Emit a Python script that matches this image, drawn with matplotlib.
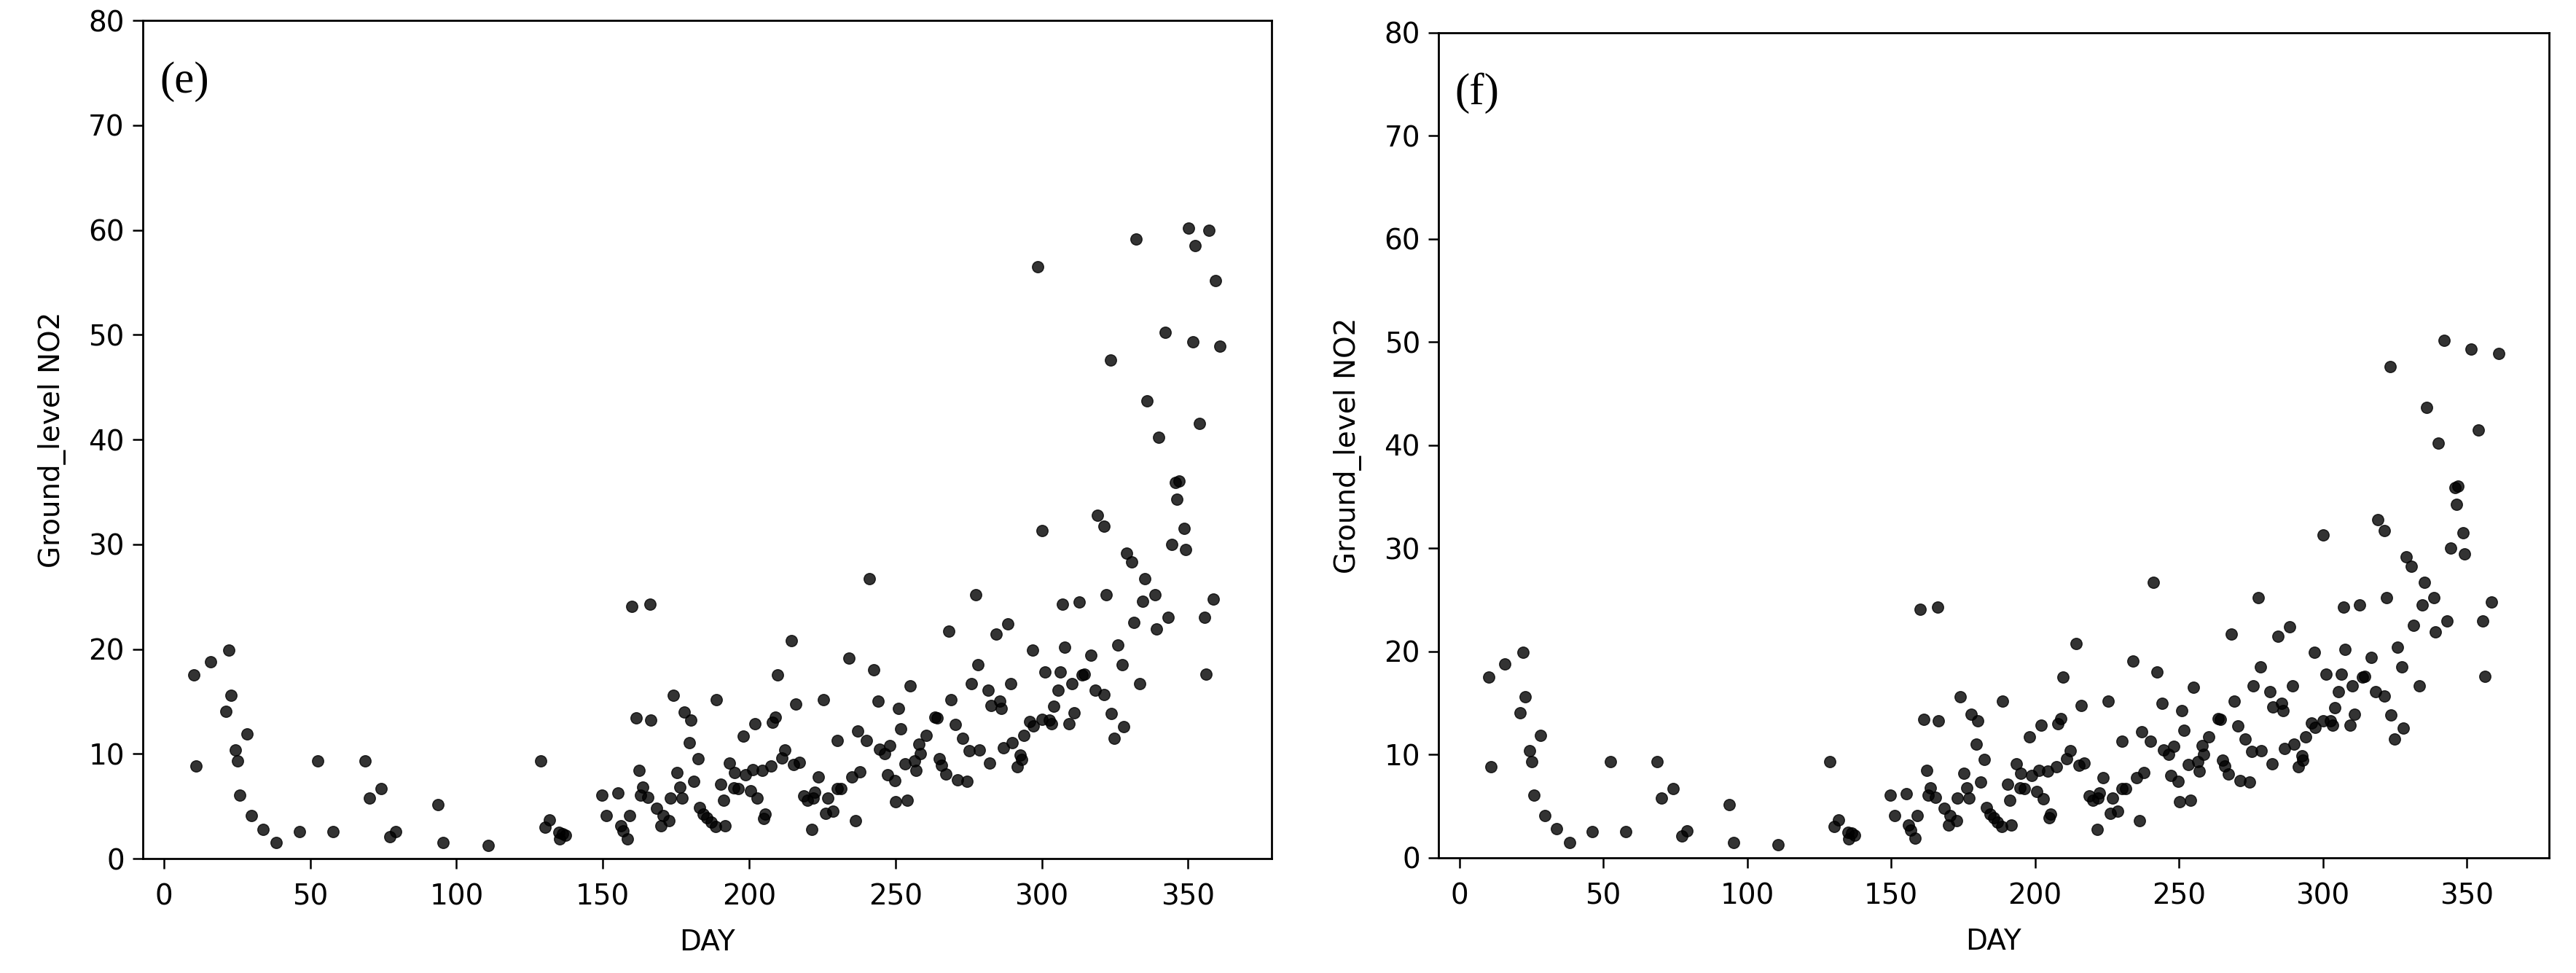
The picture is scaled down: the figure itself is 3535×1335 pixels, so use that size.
import matplotlib
matplotlib.use('Agg')
import matplotlib.pyplot as plt

# points shown in both panels
common_day = [
    10.3, 11.1, 15.9, 21.2, 22.1, 22.9, 24.5, 25.2, 25.9, 28.3,
    29.8, 33.8, 38.4, 46.3, 52.5, 57.8, 68.8, 70.3, 74.3, 77.3,
    79.1, 93.7, 95.3, 110.8, 128.8, 130.3, 131.8, 135.0, 135.3, 136.3,
    137.3, 149.8, 151.3, 155.2, 156.1, 156.8, 158.3, 159.1, 160.0, 161.4,
    162.3, 162.8, 163.6, 165.5, 166.2, 166.4, 168.5, 169.9, 170.6, 172.7,
    173.1, 174.0, 175.4, 176.4, 177.1, 177.8, 179.5, 180.2, 181.0, 182.5,
    183.1, 184.3, 185.6, 187.0, 188.5, 188.7, 190.4, 191.2, 191.8, 193.4,
    194.7, 195.1, 196.3, 198.1, 198.8, 200.5, 201.3, 202.0, 202.8, 204.5,
    204.9, 205.5, 207.5, 208.0, 208.9, 209.8, 211.1, 212.3, 214.4, 215.3,
    216.0, 217.1, 218.8, 220.0, 221.5, 221.8, 222.5, 223.7, 225.3, 226.1,
    226.9, 228.7, 230.1, 230.2, 231.4, 234.0, 235.2, 236.3, 237.0, 237.9,
    240.0, 241.0, 242.5, 244.2, 244.7, 246.4, 247.2, 248.1, 249.7, 250.1,
    251.1, 251.8, 253.3, 254.1, 255.0, 256.6, 257.1, 258.0, 258.6, 260.4,
    263.6, 264.3, 265.1, 265.8, 267.3, 268.2, 269.1, 270.5, 271.2, 273.0,
    274.4, 275.2, 275.9, 277.5, 278.3, 278.6, 281.7, 282.3, 282.7, 284.5,
    285.6, 286.2, 286.8, 288.5, 289.4, 290.0, 291.6, 292.7, 293.1, 293.9,
    296.0, 297.0, 297.2, 300.1, 300.2, 301.0, 302.6, 303.3, 304.1, 305.5,
    306.4, 307.2, 307.8, 309.4, 310.3, 311.1, 312.7, 313.8, 314.6, 316.7,
    318.3, 319.0, 321.3, 321.4, 322.1, 323.5, 323.7, 324.8, 325.9, 327.5,
    327.9, 329.0, 330.7, 331.4, 333.6, 334.6, 335.3, 336.0, 338.6, 339.1,
    340.0, 342.2, 343.1, 344.5, 345.8, 346.3, 347.0, 348.7, 349.3, 351.6,
    353.9, 355.6, 356.2, 358.6, 361.0,
]
common_no2 = [
    17.5, 8.85, 18.8, 14.05, 19.9, 15.6, 10.4, 9.3, 6.05, 11.9,
    4.1, 2.8, 1.5, 2.55, 9.3, 2.55, 9.3, 5.8, 6.7, 2.1,
    2.6, 5.15, 1.5, 1.25, 9.3, 3.0, 3.7, 2.5, 1.85, 2.4,
    2.2, 6.05, 4.1, 6.25, 3.15, 2.65, 1.9, 4.1, 24.1, 13.45,
    8.45, 6.05, 6.8, 5.85, 24.3, 13.25, 4.8, 3.15, 4.1, 3.6,
    5.8, 15.6, 8.2, 6.8, 5.8, 13.95, 11.05, 13.25, 7.35, 9.55,
    4.85, 4.25, 3.9, 3.45, 3.05, 15.2, 7.1, 5.6, 3.15, 9.1,
    6.75, 8.2, 6.7, 11.7, 8.0, 6.45, 8.5, 12.85, 5.75, 8.4,
    3.85, 4.25, 8.85, 13.0, 13.5, 17.55, 9.6, 10.4, 20.8, 9.0,
    14.75, 9.15, 6.0, 5.6, 2.75, 5.8, 6.3, 7.8, 15.2, 4.3,
    5.8, 4.5, 11.3, 6.7, 6.7, 19.1, 7.8, 3.6, 12.2, 8.25,
    11.3, 26.7, 18.0, 15.0, 10.45, 10.0, 8.0, 10.8, 7.45, 5.45,
    14.3, 12.35, 9.05, 5.6, 16.5, 9.35, 8.4, 10.9, 10.0, 11.75,
    13.5, 13.4, 9.5, 8.9, 8.1, 21.7, 15.2, 12.8, 7.5, 11.5,
    7.35, 10.3, 16.7, 25.2, 18.5, 10.4, 16.1, 9.1, 14.6, 21.45,
    15.0, 14.3, 10.6, 22.4, 16.7, 11.05, 8.8, 9.9, 9.45, 11.75,
    13.05, 19.9, 12.65, 13.3, 31.3, 17.8, 13.25, 12.85, 14.55, 16.1,
    17.8, 24.3, 20.2, 12.85, 16.7, 13.9, 24.5, 17.5, 17.6, 19.4,
    16.1, 32.8, 31.7, 15.65, 25.2, 47.6, 13.85, 11.5, 20.4, 18.5,
    12.6, 29.15, 28.3, 22.55, 16.7, 24.55, 26.7, 43.7, 25.2, 21.9,
    40.2, 50.2, 23.0, 30.0, 35.9, 34.3, 36.05, 31.5, 29.5, 49.3,
    41.5, 23.0, 17.6, 24.8, 48.9,
]

# high values that appear only in panel (e)
outlier_day = [298.6, 332.2, 350.1, 352.4, 357.2, 359.4]
outlier_no2 = [56.5, 59.1, 60.2, 58.5, 60.0, 55.2]

x_ticks = [0, 50, 100, 150, 200, 250, 300, 350]
y_ticks = [0, 10, 20, 30, 40, 50, 60, 70, 80]

plt.rcParams['font.family'] = 'DejaVu Sans'

fig = plt.figure(figsize=(35.35, 13.35), dpi=100)
ax_e = fig.add_axes([0.0554, 0.1176, 0.4382, 0.8614])
ax_f = fig.add_axes([0.5584, 0.1184, 0.4311, 0.8479])


def draw_panel(ax, days, vals, tag):
    ax.scatter(days, vals, s=125, color='k', alpha=0.8, linewidths=1)
    ax.set_ylim(0, 80)
    ax.set_xticks(x_ticks)
    ax.set_yticks(y_ticks)
    ax.tick_params(labelsize=28, length=10, width=1.8, pad=8)
    ax.tick_params(axis='x', pad=14)
    for sp in ax.spines.values():
        sp.set_linewidth(2)
    ax.set_xlabel('DAY', fontsize=28, labelpad=18)
    ax.set_ylabel('Ground_level NO2', fontsize=28, labelpad=22)
    ax.text(0.015, 0.927, tag, transform=ax.transAxes, fontsize=44,
            family='Liberation Serif', ha='left', va='center')


draw_panel(ax_e, common_day + outlier_day, common_no2 + outlier_no2, '(e)')
draw_panel(ax_f, common_day, common_no2, '(f)')

fig.savefig('out.png', dpi=100)
